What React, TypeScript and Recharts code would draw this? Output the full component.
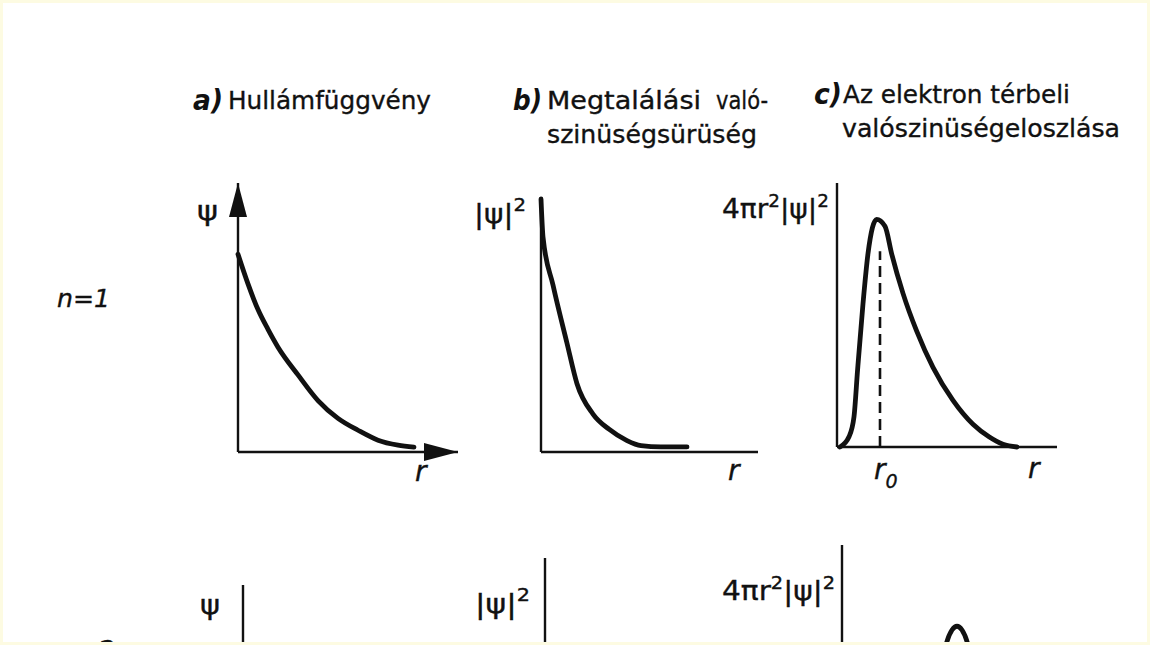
import React from 'react';
import { LineChart, Line, XAxis, YAxis, ReferenceLine } from 'recharts';

// ---- data (arbitrary units) ----
// a) wave function psi(r), n = 1
const waveR = [0, 0.5, 1, 1.5, 2, 3, 4, 5, 6, 7, 8, 8.8];
const waveVal = [1.0, 0.85, 0.72, 0.62, 0.53, 0.39, 0.26, 0.17, 0.11, 0.06, 0.035, 0.025];

// b) probability density |psi|^2, n = 1
const densR = [0, 0.1, 0.6, 1.3, 1.8, 2.6, 3.4, 4.3, 5, 6, 7.3];
const densVal = [1.0, 0.85, 0.66, 0.43, 0.27, 0.15, 0.09, 0.045, 0.025, 0.02, 0.02];

// c) radial distribution 4 pi r^2 |psi|^2, n = 1
const radR = [0.15, 0.6, 0.85, 1.03, 1.3, 1.55, 1.98, 2.4, 2.73, 3.3, 3.98, 4.8, 5.8, 6.8, 7.6, 8.3, 9.0];
const radVal = [0, 0.045, 0.133, 0.34, 0.63, 0.85, 1.0, 0.97, 0.85, 0.675, 0.51, 0.35, 0.205, 0.1, 0.045, 0.012, 0.0];
const r0 = 2.15;
const r0Top = 0.86;

// n = 2 radial distribution: only the top of a peak is visible
const peakR = [4.95, 5.2, 5.5, 5.75, 6.0, 6.3, 6.55];
const peakVal = [0.7, 0.8, 0.86, 0.875, 0.86, 0.8, 0.7];

const toRows = (xs: number[], ys: number[]) => xs.map((r, i) => ({ r, v: ys[i] }));

const INK = '#111';
const M = 24;
const FONT = "'DejaVu Sans', 'Liberation Sans', sans-serif";

type PanelProps = {
  x: number; y: number; w: number; h: number;
  xMax: number; yMax: number;
  data?: { r: number; v: number }[];
  arrows?: boolean;
  children?: React.ReactNode;
};

function Panel({ x, y, w, h, xMax, yMax, data, arrows, children }: PanelProps) {
  // axes take 1px each; margins compensate so the plot area sits exactly at (x, y, w, h)
  return (
    <div style={{ position: 'absolute', left: x - M, top: y - M }}>
      <LineChart
        width={w + 2 * M}
        height={h + 2 * M}
        data={data}
        margin={{ top: M, right: M, bottom: M - 1, left: M - 1 }}
      >
        <XAxis
          type="number"
          dataKey="r"
          domain={[0, xMax]}
          tick={false}
          tickLine={false}
          height={1}
          axisLine={{ stroke: INK, strokeWidth: 2.4, markerEnd: arrows ? 'url(#arrowHead)' : undefined }}
        />
        <YAxis
          type="number"
          domain={[0, yMax]}
          tick={false}
          tickLine={false}
          width={1}
          axisLine={{ stroke: INK, strokeWidth: 2.4, markerStart: arrows ? 'url(#arrowHead)' : undefined }}
        />
        {children}
      </LineChart>
    </div>
  );
}

function T(props: {
  x: number; y: number; size: number; len?: number; italic?: boolean; bold?: boolean; children: React.ReactNode;
}) {
  const { x, y, size, len, italic, bold, children } = props;
  return (
    <text
      x={x}
      y={y}
      fontSize={size}
      fontFamily={FONT}
      fontStyle={italic ? 'italic' : 'normal'}
      fontWeight={bold ? 700 : 400}
      fill={INK}
      stroke={bold ? undefined : INK}
      strokeWidth={bold ? undefined : 0.35}
      textLength={len}
      lengthAdjust={len ? 'spacingAndGlyphs' : undefined}
    >
      {children}
    </text>
  );
}

export default function App() {
  const curve = { stroke: INK, strokeWidth: 4.8, dot: false as const, isAnimationActive: false, type: 'monotone' as const, strokeLinecap: 'round' as const };
  return (
    <div
      style={{
        position: 'absolute', left: 0, top: 0, width: 1150, height: 645, overflow: 'hidden',
        background: '#ffffff', boxSizing: 'border-box', border: '3px solid #fdfbe2',
      }}
    >
      <svg width={0} height={0} style={{ position: 'absolute' }}>
        <defs>
          <marker id="arrowHead" markerUnits="userSpaceOnUse" markerWidth={36} markerHeight={20}
            refX={34} refY={10} orient="auto-start-reverse" viewBox="0 0 36 20">
            <path d="M0,1 L34,10 L0,19 Z" fill={INK} />
          </marker>
        </defs>
      </svg>

      <div style={{ position: 'absolute', left: -3, top: -3 }}>
        {/* n = 1 row */}
        <Panel x={238} y={183} w={220} h={269} xMax={11} yMax={1.36} data={toRows(waveR, waveVal)} arrows>
          <Line dataKey="v" {...curve} />
        </Panel>
        <Panel x={541} y={199} w={217} h={253} xMax={10.85} yMax={1} data={toRows(densR, densVal)}>
          <Line dataKey="v" {...curve} />
        </Panel>
        <Panel x={837} y={183} w={220} h={264} xMax={11} yMax={1.16} data={toRows(radR, radVal)}>
          <ReferenceLine
            segment={[{ x: r0, y: 0 }, { x: r0, y: r0Top }]}
            stroke={INK}
            strokeWidth={2.6}
            strokeDasharray="11 6"
            ifOverflow="visible"
          />
          <Line dataKey="v" {...curve} />
        </Panel>

        {/* n = 2 row (cut off at the bottom of the picture) */}
        <Panel x={243} y={585} w={220} h={267} xMax={11} yMax={1.36} />
        <Panel x={545} y={558} w={217} h={253} xMax={10.85} yMax={1} />
        <Panel x={842} y={545} w={220} h={300} xMax={11} yMax={1.2} data={toRows(peakR, peakVal)}>
          <Line dataKey="v" {...curve} />
        </Panel>

        <svg width={1150} height={645} style={{ position: 'absolute', left: 0, top: 0, pointerEvents: 'none' }}>
          {/* column titles */}
          <T x={193} y={110} size={28} len={30} italic bold>a)</T>
          <T x={228} y={109} size={24} len={203}>Hullámfüggvény</T>

          <T x={513} y={110} size={28} len={29} italic bold>b)</T>
          <T x={547} y={109} size={24} len={154}>Megtalálási</T>
          <T x={716} y={109} size={24} len={52}>való-</T>
          <T x={547} y={143} size={24} len={210}>szinüségsürüség</T>

          <T x={814} y={104} size={28} len={28} italic bold>c)</T>
          <T x={843} y={103} size={24} len={227}>Az elektron térbeli</T>
          <T x={842} y={137} size={24} len={278}>valószinüségeloszlása</T>

          {/* row labels */}
          <T x={57} y={307} size={24} len={53} italic>n=1</T>
          <T x={57} y={658} size={24} len={58} italic>n=2</T>

          {/* axis labels, n = 1 */}
          <T x={197} y={220} size={27} len={21}>ψ</T>
          <text x={474} y={223} fontSize={27} fontFamily={FONT} fill={INK} stroke={INK} strokeWidth={0.35} textLength={52} lengthAdjust="spacingAndGlyphs">
            |ψ|<tspan dy={-12} fontSize={18}>2</tspan>
          </text>
          <text x={722} y={218} fontSize={26} fontFamily={FONT} fill={INK} stroke={INK} strokeWidth={0.35} textLength={107} lengthAdjust="spacingAndGlyphs">
            4πr<tspan dy={-11} fontSize={17}>2</tspan><tspan dy={11}>|ψ|</tspan><tspan dy={-11} fontSize={17}>2</tspan>
          </text>
          <T x={415} y={481} size={28} italic>r</T>
          <T x={728} y={480} size={28} italic>r</T>
          <T x={1028} y={478} size={28} italic>r</T>
          <text x={874} y={479} fontSize={28} fontFamily={FONT} fontStyle="italic" fill={INK} stroke={INK} strokeWidth={0.35}>
            r<tspan dy={9} fontSize={19}>0</tspan>
          </text>

          {/* axis labels, n = 2 */}
          <T x={200} y={614} size={27} len={20}>ψ</T>
          <text x={475} y={613} fontSize={27} fontFamily={FONT} fill={INK} stroke={INK} strokeWidth={0.35} textLength={55} lengthAdjust="spacingAndGlyphs">
            |ψ|<tspan dy={-12} fontSize={18}>2</tspan>
          </text>
          <text x={722} y={600} fontSize={26} fontFamily={FONT} fill={INK} stroke={INK} strokeWidth={0.35} textLength={113} lengthAdjust="spacingAndGlyphs">
            4πr<tspan dy={-11} fontSize={17}>2</tspan><tspan dy={11}>|ψ|</tspan><tspan dy={-11} fontSize={17}>2</tspan>
          </text>
        </svg>
      </div>
    </div>
  );
}
